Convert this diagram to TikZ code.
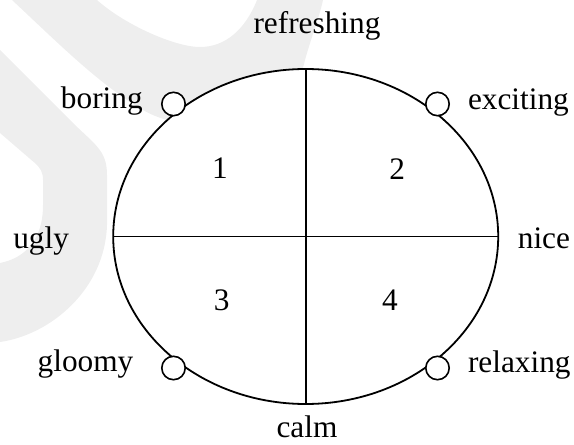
\documentclass[tikz,border=0pt]{standalone}
\usepackage{fontspec}
\setmainfont{Liberation Serif}
\usetikzlibrary{shapes.geometric}
\definecolor{wm}{RGB}{238,238,238}
\begin{document}
\begin{tikzpicture}[x=1bp,y=-1bp,
  lbl/.style={font=\fontsize{31.3bp}{37bp}\selectfont, inner sep=0pt, outer sep=0pt},
  knob/.style={circle, draw, fill=white, line width=1.6bp, minimum size=23.4bp, inner sep=0pt},
  divider/.style={line width=1.7bp}]
\useasboundingbox (0,0) rectangle (574,445);
% watermark
\fill[wm] (12,0) .. controls (60,45) and (100,85) .. (143,110)
  .. controls (190,138) and (290,130) .. (305,60)
  .. controls (312,35) and (320,15) .. (323,0) -- (257,0)
  .. controls (245,30) and (225,47) .. (200,47)
  .. controls (175,47) and (125,25) .. (97,0) -- cycle;
\fill[wm] (0,50) -- (70,120) .. controls (95,145) and (107,150) .. (107,175)
  -- (107,225) .. controls (105,290) and (50,335) .. (0,342)
  -- (0,263) .. controls (25,258) and (43,240) .. (43,205)
  -- (43,180) .. controls (43,172) and (40,168) .. (36,164) -- (0,133) -- cycle;
% oval
\node[ellipse, draw, fill=white, line width=1.8bp, minimum width=385bp, minimum height=335bp, inner sep=0pt, outer sep=0pt] (oval) at (305.7,236.5) {};
\draw[divider] (oval.west) -- (oval.east);
\draw[divider] (oval.north) -- (oval.south);
% knobs
\node[knob] (kb) at (173.5,104) {};
\node[knob] (ke) at (437.5,104) {};
\node[knob] (kg) at (173.5,368) {};
\node[knob] (kr) at (437.5,368) {};
% labels
\node[lbl, anchor=base] (refreshing) at (317,34) {refreshing};
\node[lbl, anchor=base] (calm) at (307,437) {calm};
\node[lbl, anchor=base east] (boring) at (142.7,108.5) {boring};
\node[lbl, anchor=base west] (exciting) at (468,110) {exciting};
\node[lbl, anchor=base west] (ugly) at (13.3,249) {ugly};
\node[lbl, anchor=base east] (nice) at (570,249) {nice};
\node[lbl, anchor=base east] (gloomy) at (133.3,371) {gloomy};
\node[lbl, anchor=base west] (relaxing) at (468,372.5) {relaxing};
% quadrant numbers
\node[lbl, anchor=base] (q1) at (220,179) {1};
\node[lbl, anchor=base] (q2) at (397.3,180) {2};
\node[lbl, anchor=base] (q3) at (221.7,310.5) {3};
\node[lbl, anchor=base] (q4) at (390,310) {4};
\end{tikzpicture}
\end{document}
